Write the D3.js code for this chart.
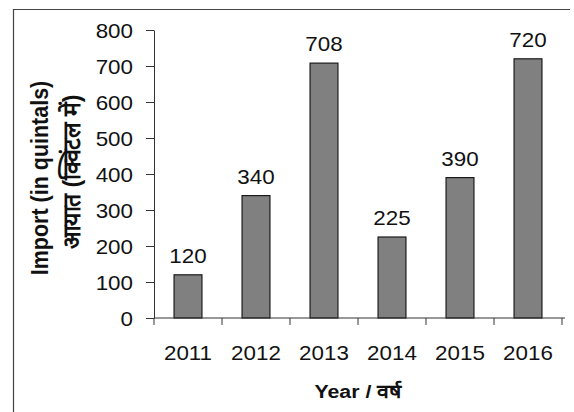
<!DOCTYPE html>
<html>
<head>
<meta charset="utf-8">
<script src="https://cdn.jsdelivr.net/npm/d3@7"></script>
<style>
  body { margin: 0; background: #fff; }
  text { font-family: Arial, "Liberation Sans", sans-serif; fill: #111; }
</style>
</head>
<body>
<script>
const W = 574, H = 412;

// data
const years = ["2011", "2012", "2013", "2014", "2015", "2016"];
const imports = [120, 340, 708, 225, 390, 720];
const yTicks = [0, 100, 200, 300, 400, 500, 600, 700, 800];

const margin = {left: 154, right: 12, top: 30, bottom: 94};
const sx = 1.12; // picture text is a bit wide

const svg = d3.select("body").append("svg").attr("width", W).attr("height", H);
svg.append("rect").attr("width", W).attr("height", H).attr("fill", "#fff");

// outer frame (open on right and bottom, as in the picture)
svg.append("path")
    .attr("d", "M13.5," + H + "V9.5H570")
    .attr("fill", "none")
    .attr("stroke", "#444")
    .attr("stroke-width", 1.2);

const x = d3.scaleBand()
    .domain(years)
    .range([margin.left, W - margin.right])
    .paddingInner(0.59)
    .paddingOuter(0.295);

const y = d3.scaleLinear()
    .domain([0, 800])
    .range([H - margin.bottom, margin.top]);

const step = x.step();

// bars
svg.selectAll("rect.bar")
    .data(years)
    .enter()
    .append("rect")
    .attr("class", "bar")
    .attr("x", d => x(d))
    .attr("y", (d, i) => y(imports[i]))
    .attr("width", x.bandwidth())
    .attr("height", (d, i) => y(0) - y(imports[i]))
    .attr("fill", "#808080")
    .attr("stroke", "#1a1a1a")
    .attr("stroke-width", 1.2);

// value labels
svg.selectAll("text.val")
    .data(years)
    .enter()
    .append("text")
    .attr("class", "val")
    .attr("transform", (d, i) => `translate(${x(d) + x.bandwidth() / 2},${y(imports[i]) - 12}) scale(${sx},1)`)
    .attr("text-anchor", "middle")
    .attr("font-size", "20px")
    .text((d, i) => imports[i]);

// y axis
const yAxis = svg.append("g")
    .attr("transform", `translate(${margin.left},0)`)
    .call(d3.axisLeft(y).tickValues(yTicks).tickSize(8).tickPadding(13).tickSizeOuter(0));
yAxis.select(".domain").attr("stroke", "#333");
yAxis.selectAll(".tick line").attr("stroke", "#333");
yAxis.selectAll(".tick text")
    .attr("font-size", "20px")
    .attr("font-family", "Arial, 'Liberation Sans', sans-serif")
    .attr("fill", "#111")
    .attr("dy", "0.36em")
    .each(function () {
        const t = d3.select(this);
        const tx = +t.attr("x");
        t.attr("x", tx / sx).attr("transform", `scale(${sx},1)`);
    });

// x axis: ticks sit on band boundaries
const xAxis = svg.append("g")
    .attr("transform", `translate(0,${y(0)})`);
xAxis.append("line")
    .attr("x1", margin.left).attr("x2", W - margin.right + 3)
    .attr("stroke", "#333");
xAxis.selectAll("line.tk")
    .data(d3.range(years.length + 1))
    .enter()
    .append("line")
    .attr("class", "tk")
    .attr("x1", i => margin.left + i * step)
    .attr("x2", i => margin.left + i * step)
    .attr("y1", 0).attr("y2", 7)
    .attr("stroke", "#333");
xAxis.selectAll("text")
    .data(years)
    .enter()
    .append("text")
    .attr("transform", d => `translate(${x(d) + x.bandwidth() / 2},42) scale(${sx},1)`)
    .attr("text-anchor", "middle")
    .attr("font-size", "20px")
    .text(d => d);

// axis titles
svg.append("text")
    .attr("transform", `translate(${(margin.left + W - margin.right) / 2},398) scale(${sx},1)`)
    .attr("text-anchor", "middle")
    .attr("font-size", "19px")
    .attr("font-weight", "bold")
    .text("Year / वर्ष");

svg.append("text")
    .attr("transform", `translate(48,178) rotate(-90) scale(1,${sx})`)
    .attr("text-anchor", "middle")
    .attr("font-size", "21.5px")
    .attr("font-weight", "bold")
    .text("Import (in quintals)");

svg.append("text")
    .attr("transform", `translate(80,172) rotate(-90) scale(1,1.05)`)
    .attr("text-anchor", "middle")
    .attr("font-size", "23px")
    .attr("font-weight", "bold")
    .text("आयात (क्विंटल में)");
</script>
</body>
</html>
